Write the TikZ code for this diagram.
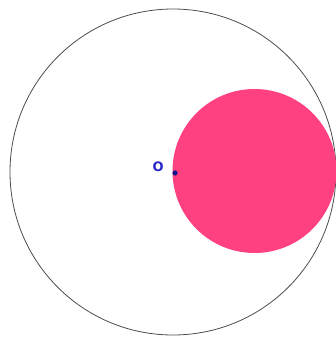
\documentclass[tikz,border=0pt]{standalone}
\usepackage{fontspec}
\usepackage{tikz}
\usetikzlibrary{positioning}
\newfontfamily\lblfont{DejaVu Sans}
\definecolor{discpink}{RGB}{255,64,129}
\definecolor{ptblue}{RGB}{20,20,140}
\definecolor{lblblue}{RGB}{40,40,200}
\begin{document}
\begin{tikzpicture}[
    x=1pt, y=-1pt,
    rim/.style={draw=black!70, line width=0.8pt},
    disc/.style={fill=discpink},
    pt/.style={fill=ptblue},
    lbl/.style={font=\lblfont\bfseries\fontsize{13}{13}\selectfont, text=lblblue, inner sep=1pt}
  ]
  \useasboundingbox (0,0) rectangle (336,338);

  %% centre and the two circles
  \coordinate (O) at (173,172);
  \coordinate (C) at (254.5,171);
  \draw[rim] (O) circle[radius=163];
  \fill[disc] (C) circle[radius=82];

  %% the point O and its label
  \fill[pt] (O) ++(2,1) circle[radius=2.6];
  \node (lblO) [lbl, left=8pt of O, yshift=5pt] {O};
\end{tikzpicture}
\end{document}
